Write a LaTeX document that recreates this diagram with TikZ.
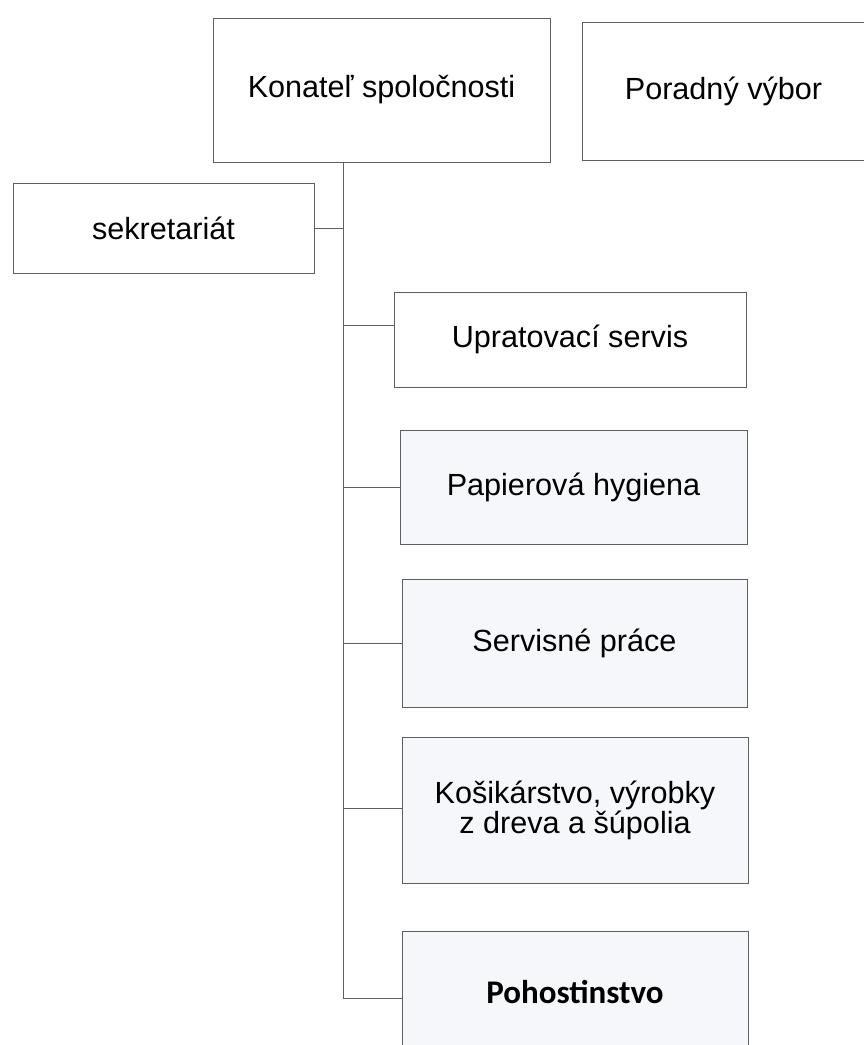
\documentclass[tikz,border=0pt]{standalone}
\usepackage{fontspec}
\setmainfont{Liberation Sans}
\newfontfamily\pohfont{Carlito}
\definecolor{boxline}{RGB}{95,95,95}
\definecolor{scanfill}{RGB}{245,247,250}
\begin{document}
\begin{tikzpicture}[x=1pt,y=-1pt,
  orgbox/.style={draw=boxline, line width=0.8pt, fill=white, inner sep=0pt, align=center,
    font=\fontsize{30.6}{26}\selectfont},
  tinted/.style={orgbox, fill=scanfill},
  link/.style={draw=boxline, line width=0.8pt}]
\useasboundingbox (0,0) rectangle (863,1045);
\fill[white] (0,0) rectangle (863,1045);

\node[orgbox, minimum width=337pt, minimum height=144pt] (kon) at (381.5,90) {Konateľ spoločnosti};
\node[orgbox, minimum width=283pt, minimum height=138pt] (por) at (723.5,91) {Poradný výbor};
\node[orgbox, minimum width=301pt, minimum height=90pt] (sek) at (163.5,228) {sekretariát};
\node[orgbox, minimum width=352pt, minimum height=95pt] (upr) at (570,339.5) {Upratovací servis};
\node[tinted, minimum width=347pt, minimum height=114pt] (pap) at (573.5,487) {Papierová hygiena};
\node[tinted, minimum width=345pt, minimum height=128pt] (ser) at (574.5,643) {Servisné práce};
\node[tinted, minimum width=346pt, minimum height=146pt] (kos) at (575,810) {Košikárstvo, výrobky\\z dreva a šúpolia};
\node[tinted, minimum width=346pt, minimum height=122pt,
  font=\pohfont\bfseries\fontsize{33}{36}\selectfont] (poh) at (575,992) {Pohostinstvo};

\coordinate (tx) at (343,0);
\draw[link] (kon.south -| tx) |- ([yshift=-6pt]poh.west);
\draw[link] (sek.east) -- (sek.east -| tx);
\draw[link] ([yshift=14.5pt]upr.west) -- ([yshift=14.5pt]upr.west -| tx);
\draw[link] (pap.west) -- (pap.west -| tx);
\draw[link] (ser.west) -- (ser.west -| tx);
\draw[link] ([yshift=2pt]kos.west) -- ([yshift=2pt]kos.west -| tx);
\end{tikzpicture}
\end{document}
